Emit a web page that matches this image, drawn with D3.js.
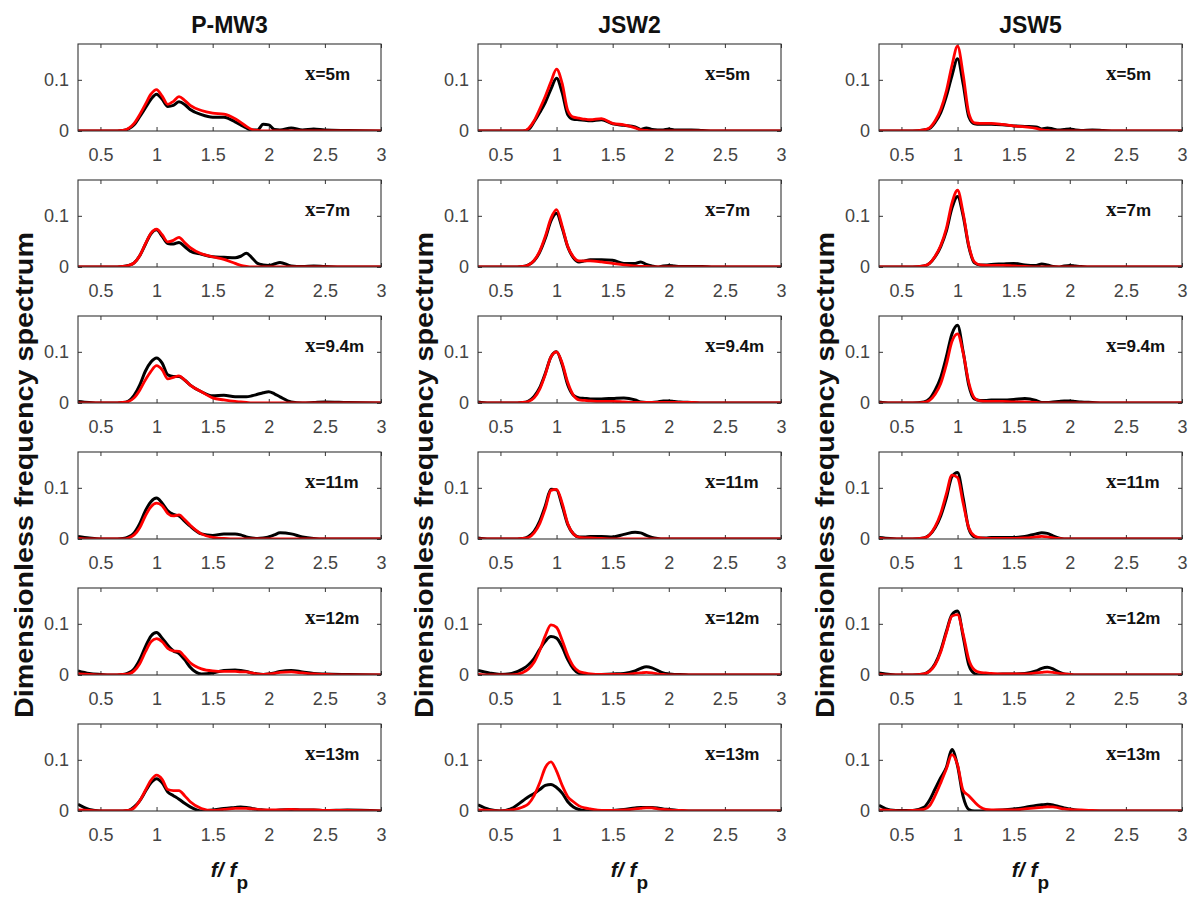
<!DOCTYPE html>
<html><head><meta charset="utf-8">
<script src="https://cdn.jsdelivr.net/npm/d3@7"></script>
<style>body{margin:0;background:#fff}</style>
</head><body><svg id="c" width="1194" height="899"></svg>
<script>
// ---------------- data ----------------
const freq = [0.3,0.4,0.5,0.6,0.7, 0.75,0.8,0.85,0.9,0.95, 1.0,1.05,1.1,1.15,1.2, 1.25,1.3,1.4,1.5,1.6,
              1.7,1.75,1.8,1.85,1.9, 1.95,2.0,2.05,2.1,2.2, 2.3,2.4,2.5,2.7,3.0];
const columns = ["P-MW3", "JSW2", "JSW5"];
const stations = ["5", "7", "9.4", "11", "12", "13"];
const xTicks = [0.5, 1, 1.5, 2, 2.5, 3];
const yTicks = [0, 0.1];

const pmw3Black = [
  [0,0,0,0,0.001, 0.004,0.012,0.028,0.045,0.062, 0.072,0.062,0.048,0.05,0.057, 0.052,0.042,0.032,0.027,0.027, 0.018,0.012,0.006,0.002,0.002, 0.013,0.012,0.003,0.002,0.006, 0.002,0.004,0.002,0.001,0],
  [0,0,0,0,0.001, 0.003,0.008,0.022,0.044,0.065, 0.073,0.06,0.046,0.045,0.048, 0.04,0.031,0.025,0.02,0.019, 0.018,0.021,0.027,0.018,0.007, 0.004,0.003,0.006,0.009,0.002, 0.001,0.002,0.001,0,0],
  [0.003,0.001,0,0,0.001, 0.004,0.015,0.035,0.062,0.08, 0.088,0.078,0.055,0.052,0.052, 0.045,0.035,0.022,0.014,0.015, 0.012,0.012,0.012,0.014,0.017, 0.02,0.022,0.018,0.012,0.002, 0,0.001,0.002,0.001,0],
  [0.005,0.002,0,0,0.001, 0.004,0.012,0.03,0.055,0.073, 0.08,0.07,0.055,0.048,0.045, 0.035,0.025,0.01,0.007,0.01, 0.01,0.008,0.004,0.002,0.001, 0.002,0.004,0.008,0.012,0.01, 0.004,0.001,0,0,0],
  [0.008,0.003,0.001,0,0.001, 0.004,0.012,0.03,0.055,0.076, 0.083,0.072,0.058,0.047,0.042, 0.03,0.015,0.002,0.004,0.009, 0.01,0.009,0.007,0.004,0.002, 0.001,0.002,0.004,0.007,0.009, 0.006,0.003,0.002,0.001,0],
  [0.013,0.003,0,0,0, 0.001,0.008,0.02,0.038,0.055, 0.063,0.055,0.037,0.03,0.023, 0.015,0.008,0,0.002,0.005, 0.007,0.008,0.007,0.005,0.003, 0.002,0.001,0.001,0.002,0.003, 0.002,0.002,0.001,0.002,0]
];
const pmw3Red = [
  [0,0,0,0,0.001, 0.005,0.015,0.032,0.052,0.072, 0.081,0.068,0.052,0.058,0.067, 0.06,0.05,0.04,0.035,0.033, 0.024,0.017,0.009,0.003,0.001, 0,0,0,0,0, 0,0,0,0,0],
  [0,0,0,0,0.001, 0.003,0.008,0.022,0.045,0.066, 0.074,0.063,0.049,0.052,0.058, 0.048,0.038,0.026,0.02,0.015, 0.007,0.003,0.001,0,0, 0,0,0,0,0, 0,0,0,0,0],
  [0,0,0,0,0.001, 0.003,0.01,0.025,0.045,0.062, 0.073,0.065,0.047,0.05,0.053, 0.045,0.035,0.022,0.01,0.006, 0.003,0.002,0.001,0,0, 0,0,0,0,0, 0,0,0,0,0],
  [0.001,0,0,0,0, 0.002,0.008,0.022,0.045,0.063, 0.07,0.065,0.05,0.045,0.047, 0.038,0.027,0.01,0.003,0.001, 0,0,0,0,0, 0,0,0,0,0, 0,0,0,0,0],
  [0.002,0.001,0,0,0.001, 0.002,0.008,0.022,0.045,0.065, 0.071,0.065,0.052,0.047,0.046, 0.036,0.024,0.012,0.008,0.007, 0.007,0.006,0.006,0.004,0.002, 0.001,0.002,0.003,0.005,0.006, 0.004,0.002,0.001,0,0],
  [0.002,0.001,0,0,0, 0.001,0.006,0.02,0.04,0.06, 0.07,0.062,0.042,0.04,0.04, 0.03,0.018,0.005,0.001,0.003, 0.005,0.005,0.005,0.004,0.003, 0.002,0.002,0.002,0.002,0.003, 0.002,0.002,0.001,0.001,0]
];
const jsw2Black = [
  [0,0,0,0,0, 0.003,0.018,0.036,0.056,0.082, 0.103,0.075,0.032,0.023,0.022, 0.021,0.02,0.022,0.014,0.011, 0.008,0.003,0.006,0.003,0.002, 0.002,0.004,0.002,0.002,0.002, 0.001,0,0,0,0],
  [0,0,0,0,0.001, 0.004,0.012,0.029,0.056,0.09, 0.105,0.076,0.039,0.018,0.01, 0.012,0.014,0.014,0.013,0.007, 0.007,0.01,0.005,0.002,0, 0.002,0.003,0.002,0.001,0.001, 0.001,0,0,0,0],
  [0.002,0,0,0,0.001, 0.004,0.013,0.03,0.058,0.09, 0.1,0.075,0.035,0.015,0.01, 0.009,0.008,0.008,0.009,0.01, 0.006,0.002,0.001,0.001,0.002, 0.004,0.004,0.003,0.002,0.001, 0,0,0,0,0],
  [0.002,0,0,0,0.001, 0.005,0.015,0.035,0.065,0.097, 0.096,0.065,0.028,0.01,0.004, 0.004,0.005,0.005,0.004,0.009, 0.013,0.012,0.007,0.003,0.001, 0,0,0,0,0, 0,0,0,0,0],
  [0.009,0.004,0.001,0.003,0.012, 0.02,0.032,0.05,0.066,0.075, 0.072,0.055,0.03,0.012,0.003, 0.001,0,0.001,0.002,0.003, 0.008,0.013,0.016,0.014,0.009, 0.004,0.002,0.001,0.001,0, 0,0,0,0,0],
  [0.012,0.003,0,0.005,0.02, 0.028,0.034,0.042,0.05,0.052, 0.046,0.035,0.018,0.008,0.003, 0.001,0,0,0.001,0.003, 0.006,0.007,0.007,0.007,0.006, 0.004,0.003,0.002,0.001,0, 0,0,0,0,0]
];
const jsw2Red = [
  [0,0,0,0,0, 0.005,0.02,0.043,0.068,0.096, 0.121,0.093,0.04,0.027,0.025, 0.023,0.022,0.024,0.015,0.012, 0.006,0.002,0.001,0,0, 0,0,0,0,0, 0,0,0,0,0],
  [0,0,0,0,0.001, 0.004,0.013,0.031,0.06,0.095, 0.112,0.08,0.04,0.02,0.012, 0.012,0.012,0.01,0.007,0.004, 0.002,0.001,0.001,0,0, 0,0,0,0,0, 0,0,0,0,0],
  [0,0,0,0,0.001, 0.003,0.01,0.027,0.056,0.09, 0.1,0.078,0.04,0.015,0.006, 0.005,0.004,0.003,0.003,0.002, 0.001,0.001,0.001,0.001,0.001, 0.001,0.001,0.001,0.001,0.001, 0,0,0,0,0],
  [0,0,0,0,0.001, 0.003,0.012,0.03,0.06,0.095, 0.097,0.07,0.03,0.01,0.003, 0.002,0.002,0.001,0,0, 0,0,0,0,0, 0,0,0,0,0, 0,0,0,0,0],
  [0.001,0,0,0,0.005, 0.012,0.025,0.048,0.077,0.098, 0.093,0.068,0.038,0.017,0.007, 0.004,0.002,0.001,0.001,0.001, 0.003,0.004,0.005,0.004,0.002, 0.001,0,0,0,0, 0,0,0,0,0],
  [0.002,0.001,0,0.002,0.008, 0.014,0.03,0.055,0.085,0.096, 0.078,0.05,0.028,0.018,0.01, 0.006,0.004,0.001,0.001,0.002, 0.004,0.005,0.006,0.006,0.004, 0.003,0.002,0.001,0.001,0, 0,0,0,0,0]
];
const jsw5Black = [
  [0,0,0,0,0.002, 0.005,0.017,0.036,0.068,0.108, 0.141,0.092,0.028,0.014,0.013, 0.013,0.013,0.012,0.01,0.009, 0.008,0.004,0.006,0.004,0.002, 0.003,0.004,0.002,0.001,0.002, 0.001,0,0,0,0],
  [0,0,0,0,0.002, 0.007,0.02,0.04,0.07,0.115, 0.138,0.1,0.04,0.008,0.004, 0.004,0.005,0.006,0.007,0.004, 0.003,0.006,0.004,0.001,0, 0.002,0.003,0.002,0.001,0, 0,0,0,0,0],
  [0.002,0,0,0,0.002, 0.008,0.025,0.05,0.09,0.135, 0.152,0.1,0.035,0.008,0.005, 0.005,0.006,0.006,0.007,0.009, 0.005,0.001,0.001,0.002,0.003, 0.004,0.004,0.003,0.002,0.001, 0,0,0,0,0],
  [0.003,0.001,0,0,0.002, 0.008,0.022,0.045,0.08,0.122, 0.13,0.08,0.02,0.004,0.002, 0.002,0.003,0.003,0.003,0.005, 0.01,0.012,0.011,0.006,0.002, 0,0,0,0,0, 0,0,0,0,0],
  [0.004,0.001,0,0,0.002, 0.008,0.022,0.048,0.085,0.118, 0.125,0.075,0.02,0.003,0, 0,0.001,0.002,0.002,0.003, 0.008,0.013,0.015,0.012,0.006, 0.002,0.001,0,0,0, 0,0,0,0,0],
  [0.011,0.002,0.001,0.001,0.007, 0.021,0.043,0.065,0.085,0.12, 0.088,0.028,0.003,0,0, 0,0.001,0.002,0.004,0.007, 0.011,0.012,0.013,0.012,0.009, 0.006,0.004,0.002,0.001,0, 0,0,0,0,0]
];
const jsw5Red = [
  [0,0,0,0,0.002, 0.006,0.02,0.042,0.078,0.128, 0.166,0.11,0.035,0.016,0.015, 0.015,0.015,0.013,0.01,0.008, 0.005,0.002,0.001,0,0, 0,0,0,0,0, 0,0,0,0,0],
  [0,0,0,0,0.002, 0.007,0.021,0.042,0.075,0.125, 0.15,0.105,0.042,0.01,0.004, 0.003,0.003,0.003,0.002,0.001, 0,0,0,0,0, 0,0,0,0,0, 0,0,0,0,0],
  [0,0,0,0,0.001, 0.005,0.017,0.038,0.075,0.12, 0.135,0.098,0.04,0.01,0.004, 0.003,0.003,0.003,0.002,0.002, 0.001,0,0,0,0, 0,0,0,0,0, 0,0,0,0,0],
  [0.001,0,0,0,0.002, 0.008,0.024,0.05,0.088,0.125, 0.12,0.07,0.022,0.006,0.002, 0.001,0.001,0.001,0.001,0.002, 0.004,0.005,0.004,0.002,0.001, 0,0,0,0,0, 0,0,0,0,0],
  [0.001,0,0,0,0.002, 0.007,0.02,0.045,0.082,0.115, 0.118,0.08,0.03,0.01,0.005, 0.004,0.003,0.002,0.002,0.002, 0.004,0.005,0.006,0.005,0.003, 0.002,0.001,0,0,0, 0,0,0,0,0],
  [0.002,0.001,0,0.001,0.003, 0.01,0.03,0.055,0.082,0.11, 0.09,0.04,0.03,0.018,0.008, 0.003,0.002,0.002,0.002,0.004, 0.006,0.007,0.008,0.008,0.006, 0.004,0.003,0.002,0.002,0.001, 0,0,0,0,0]
];
const blackSeries = [pmw3Black, jsw2Black, jsw5Black];
const redSeries = [pmw3Red, jsw2Red, jsw5Red];

// ---------------- layout ----------------
const svg = d3.select("#c");
const colLeft = [78, 478, 879];
const panelW = 303, panelH = 87, rowTop0 = 44, rowStep = 136;
const sans = "Arial, 'Liberation Sans', sans-serif";
const serif = "'Liberation Serif', 'DejaVu Serif', serif";

const x = d3.scaleLinear().domain([0.3, 3]).range([0, panelW]);
const y = d3.scaleLinear().domain([0, 0.17]).range([panelH, 0]);
const line = d3.line().x(d => x(d[0])).y(d => y(d[1])).curve(d3.curveMonotoneX);

svg.append("defs").append("clipPath").attr("id", "clip")
  .append("rect").attr("x", 0).attr("y", -2).attr("width", panelW).attr("height", panelH + 2);

columns.forEach((name, c) => {
  const cx = colLeft[c] + panelW / 2;
  svg.append("text").attr("x", cx).attr("y", 33).attr("text-anchor", "middle")
    .attr("font-family", sans).attr("font-weight", "bold").attr("font-size", 23)
    .attr("fill", "#111").text(name);

  // y label
  svg.append("text")
    .attr("transform", `translate(${colLeft[c] - 45},475) rotate(-90)`)
    .attr("text-anchor", "middle").attr("font-family", sans).attr("font-weight", "bold")
    .attr("font-size", 25).attr("fill", "#111")
    .attr("textLength", 486).attr("lengthAdjust", "spacingAndGlyphs")
    .text("Dimensionless frequency spectrum");

  // x label f/ f_p
  const xl = svg.append("text").attr("x", cx).attr("y", 877).attr("text-anchor", "middle")
    .attr("font-family", sans).attr("font-weight", "bold").attr("font-size", 21).attr("fill", "#111");
  xl.append("tspan").attr("font-style", "italic").text("f/ f");
  xl.append("tspan").attr("dy", 12).attr("font-size", 19).text("p");

  stations.forEach((st, r) => {
    const g = svg.append("g").attr("transform", `translate(${colLeft[c]},${rowTop0 + r * rowStep})`);

    g.append("g").attr("transform", `translate(0,${panelH})`)
      .call(d3.axisBottom(x).tickValues(xTicks).tickFormat(d3.format("")).tickSizeInner(-4).tickSizeOuter(0).tickPadding(17));
    g.append("g").call(d3.axisTop(x).tickValues(xTicks).tickFormat("").tickSizeInner(-4).tickSizeOuter(0));
    g.append("g")
      .call(d3.axisLeft(y).tickValues(yTicks).tickFormat(d3.format("")).tickSizeInner(-4).tickSizeOuter(0).tickPadding(9));
    g.append("g").attr("transform", `translate(${panelW},0)`)
      .call(d3.axisRight(y).tickValues(yTicks).tickFormat("").tickSizeInner(-4).tickSizeOuter(0));
    g.selectAll(".domain").remove();
    g.selectAll(".tick line").attr("stroke", "#333");
    g.selectAll(".tick text").attr("font-family", sans).attr("font-size", 18).attr("fill", "#444");

    const plot = g.append("g").attr("clip-path", "url(#clip)");
    const bData = freq.map((f, i) => [f, blackSeries[c][r][i]]);
    const rData = freq.map((f, i) => [f, redSeries[c][r][i]]);
    plot.append("path").datum(bData).attr("d", line).attr("fill", "none")
      .attr("stroke", "#000").attr("stroke-width", 3).attr("stroke-linejoin", "round");
    plot.append("path").datum(rData).attr("d", line).attr("fill", "none")
      .attr("stroke", "#f00").attr("stroke-width", 2.8).attr("stroke-linejoin", "round");

    g.append("rect").attr("width", panelW).attr("height", panelH)
      .attr("fill", "none").attr("stroke", "#333").attr("stroke-width", 1.1);

    const ann = g.append("text").attr("x", 227).attr("y", 36)
      .attr("font-weight", "bold").attr("font-size", 17).attr("fill", "#111");
    ann.append("tspan").attr("font-family", serif).attr("font-size", 21).text("x");
    ann.append("tspan").attr("font-family", sans).text("=" + st + "m");
  });
});
</script>
</body></html>
